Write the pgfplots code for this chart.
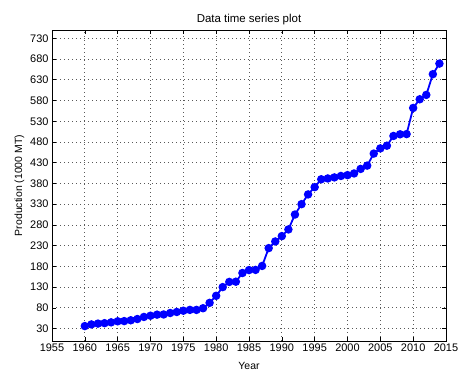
\documentclass[border=0pt]{standalone}
\usepackage{pgfplots}
\pgfplotsset{compat=1.18}
\usepackage{fontspec}
\setmainfont{Liberation Sans}
\begin{document}
\fontsize{10}{12}\selectfont
\begin{tikzpicture}
\path[use as bounding box] (-52bp,-30bp) rectangle (407bp,341bp);
\begin{axis}[
  scale only axis,
  width=394bp, height=311bp,
  anchor=south west, at={(0,0)},
  xmin=1955, xmax=2015, ymin=0, ymax=750,
  xtick={1955,1960,...,2015},
  ytick={30,80,...,730},
  /pgf/number format/assume math mode=true,
  x tick label style={/pgf/number format/1000 sep={}, yshift=1bp},
  tick label style={font=\fontsize{11}{13}\selectfont},
  grid=major,
  major grid style={dash pattern=on 0.8bp off 3.2bp, black!65, line width=0.7pt},
  tick align=inside,
  ticks=both,
  xtick pos=both, ytick pos=both,
  major tick length=4bp,
  axis line style={black, line width=0.8pt},
  tick style={black, line width=0.6pt},
  title={Data time series plot},
  title style={font=\fontsize{11.5}{13}\selectfont, yshift=-4bp},
  xlabel={Year},
  ylabel={Production (1000 MT)},
  label style={font=\fontsize{10.5}{12}\selectfont},
  xlabel style={yshift=-4bp},
  ylabel style={yshift=-1bp},
]
\addplot[blue, line width=1.8pt, mark=*, mark size=3.3pt, mark options={fill=blue, draw=blue}] coordinates {
(1960,36) (1961,40) (1962,42) (1963,43) (1964,45) (1965,47.5) (1966,48) (1967,50)
(1968,53) (1969,58) (1970,61) (1971,63.5) (1972,64) (1973,67.5) (1974,70)
(1975,73) (1976,75) (1977,75) (1978,79) (1979,92) (1980,109) (1981,130)
(1982,142.5) (1983,143) (1984,164) (1985,171) (1986,171.5) (1987,181)
(1988,224) (1989,240) (1990,253) (1991,269) (1992,305) (1993,330) (1994,353.5)
(1995,371) (1996,390) (1997,392) (1998,394.5) (1999,398) (2000,400) (2001,404)
(2002,415) (2003,423) (2004,452) (2005,464.5) (2006,471) (2007,494.5)
(2008,498.5) (2009,499) (2010,562) (2011,583) (2012,593.5) (2013,643.5) (2014,669)
};
\end{axis}
\end{tikzpicture}
\end{document}
